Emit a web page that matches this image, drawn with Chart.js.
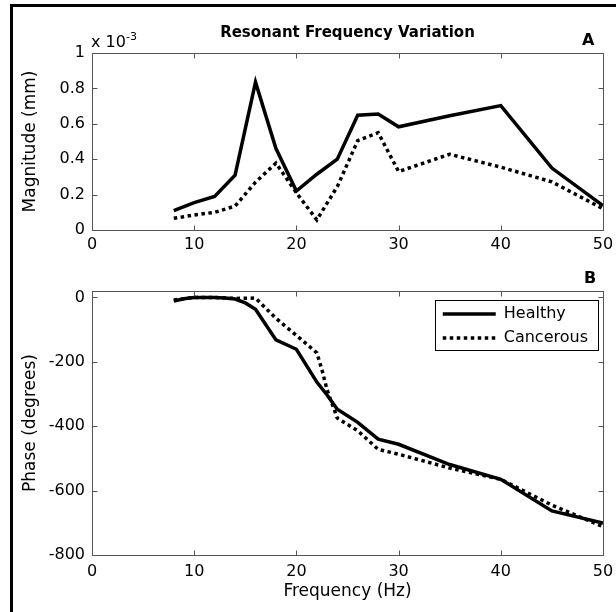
<!DOCTYPE html>
<html>
<head>
<meta charset="utf-8">
<script src="https://cdn.jsdelivr.net/npm/chart.js@4.4.1/dist/chart.umd.min.js"></script>
<style>
  body { margin: 0; background: #fff; }
  #wrap { position: relative; width: 616px; height: 612px; overflow: hidden; font-family: 'DejaVu Sans', sans-serif; color: #000; }
  #frame { position: absolute; left: 10px; top: 4px; width: 700px; height: 700px; border-left: 3px solid #000; border-top: 3px solid #000; }
  canvas { position: absolute; left: 0; }
  #magChart { top: 0; }
  #phaseChart { top: 262px; }
  .tag { position: absolute; font-weight: bold; font-size: 16px; line-height: 16px; }
  #expo { position: absolute; left: 91px; top: 33px; font-size: 16px; line-height: 18px; white-space: nowrap; }
  #expo span { font-size: 11px; position: relative; top: -7px; }
</style>
</head>
<body>
<div id="wrap">
  <div id="frame"></div>
  <canvas id="magChart" width="616" height="262"></canvas>
  <canvas id="phaseChart" width="616" height="350"></canvas>
  <div id="expo">x 10<span>-3</span></div>
  <div class="tag" style="left:582px; top:32px;">A</div>
  <div class="tag" style="left:584px; top:270px;">B</div>
</div>
<script>
// magnitude (x 10^-3 mm) vs frequency
const magFreq = [8, 10, 12, 14, 16, 18, 20, 22, 24, 26, 28, 30, 35, 40, 45, 50];
const magHealthy = [0.11, 0.155, 0.19, 0.31, 0.835, 0.46, 0.22, 0.315, 0.40, 0.648, 0.655, 0.583, 0.645, 0.703, 0.35, 0.138];
const magCancerous = [0.066, 0.085, 0.10, 0.135, 0.27, 0.378, 0.21, 0.057, 0.245, 0.505, 0.55, 0.33, 0.428, 0.355, 0.272, 0.12];

// phase (degrees) vs frequency
const phaseFreqHealthy = [8, 9, 10, 12, 13, 14, 15, 16, 18, 20, 22, 23, 24, 26, 28, 30, 35, 40, 45, 50];
const phaseHealthy = [-11, -4, 0, 0, -2, -5, -17, -37, -132, -161, -263, -303, -347, -388, -440, -456, -519, -565, -663, -701];
const phaseFreqCancerous = [8, 10, 12, 14, 16, 18, 20, 22, 22.5, 23, 24, 26, 28, 30, 35, 40, 45, 50];
const phaseCancerous = [-8, 0, 0, -3, -2, -65, -118, -172, -225, -287, -375, -414, -472, -487, -530, -565, -645, -712];

const xTicks = [0, 10, 20, 30, 40, 50];
const magTicks = [0, 0.2, 0.4, 0.6, 0.8, 1];
const phaseTicks = [-800, -600, -400, -200, 0];

Chart.defaults.font.family = "'DejaVu Sans', sans-serif";
Chart.defaults.color = '#000';

const axisColor = '#555';
const pts = (xs, ys) => xs.map((x, i) => ({x: x, y: ys[i]}));
const fixTicks = list => (s => { s.ticks = list.map(v => ({value: v})); });

// matlab style box with inward ticks, plus legend frame
const boxPlugin = {
  id: 'matlabBox',
  afterLayout(chart) {
    const lg = chart.legend;
    if (!lg || !lg.options.display) return;
    const a = chart.chartArea;
    lg.left = a.right - 5 - lg.width;
    lg.right = lg.left + lg.width;
    lg.top = a.top + 7;
    lg.bottom = a.bottom;
  },
  afterDraw(chart) {
    const {ctx, chartArea: a, scales} = chart;
    ctx.save();
    ctx.strokeStyle = axisColor;
    ctx.lineWidth = 1;
    const l = Math.round(a.left) + 0.5, r = Math.round(a.right) + 0.5;
    const t = Math.round(a.top) + 0.5, b = Math.round(a.bottom) + 0.5;
    ctx.strokeRect(l, t, r - l, b - t);
    ctx.beginPath();
    scales.x.ticks.forEach(tk => {
      const p = Math.round(scales.x.getPixelForValue(tk.value)) + 0.5;
      ctx.moveTo(p, b); ctx.lineTo(p, b - 5);
      ctx.moveTo(p, t); ctx.lineTo(p, t + 5);
    });
    scales.y.ticks.forEach(tk => {
      const p = Math.round(scales.y.getPixelForValue(tk.value)) + 0.5;
      ctx.moveTo(l, p); ctx.lineTo(l + 5, p);
      ctx.moveTo(r, p); ctx.lineTo(r - 5, p);
    });
    ctx.stroke();
    const lg = chart.legend;
    if (lg && lg.options.display) {
      ctx.strokeStyle = '#000';
      ctx.strokeRect(Math.round(lg.left) + 0.5, Math.round(lg.top) + 2.5, Math.round(lg.width), 50);
    }
    ctx.restore();
  }
};

function xScale(pad, title) {
  return {
    type: 'linear', min: 0, max: 50,
    afterBuildTicks: fixTicks(xTicks),
    afterFit: s => {
      s.height = title ? 57 : 32;
      s.paddingLeft = 0;
      s.paddingRight = 0;
    },
    grid: {display: false, drawTicks: false}, border: {display: false},
    ticks: {padding: pad, font: {size: 16}, maxRotation: 0, callback: v => String(v)},
    title: title ? {display: true, text: title, font: {size: 17}, padding: {top: 0, bottom: 10}} : {display: false}
  };
}

function yScale(min, max, list, title) {
  return {
    min: min, max: max,
    afterBuildTicks: fixTicks(list),
    afterFit: s => { s.width = 92; },
    grid: {display: false, drawTicks: false}, border: {display: false},
    ticks: {padding: 7, font: {size: 16}, autoSkip: false, callback: v => String(+v.toFixed(1))},
    title: {display: true, text: title, font: {size: 17}, padding: {top: 20, bottom: 0}}
  };
}

function lineSet(label, data, dashed) {
  return {
    label: label, data: data,
    borderColor: '#000', backgroundColor: '#000',
    borderWidth: 3.5, borderDash: dashed ? [3.5, 3.5] : [],
    pointRadius: 0, tension: 0, fill: false
  };
}

new Chart(document.getElementById('magChart'), {
  type: 'line',
  data: {
    datasets: [
      lineSet('Healthy', pts(magFreq, magHealthy), false),
      lineSet('Cancerous', pts(magFreq, magCancerous), true)
    ]
  },
  options: {
    responsive: false, animation: false, devicePixelRatio: 1,
    layout: {padding: {left: 0, right: 13, top: 0, bottom: 0}},
    plugins: {
      legend: {display: false},
      tooltip: {enabled: false},
      title: {
        display: true, text: 'Resonant Frequency Variation', fullSize: false,
        font: {size: 15, weight: 'bold'}, color: '#000',
        padding: {top: 24, bottom: 11}
      }
    },
    scales: {
      x: xScale(5, null),
      y: yScale(0, 1, magTicks, 'Magnitude (mm)')
    }
  },
  plugins: [boxPlugin]
});

new Chart(document.getElementById('phaseChart'), {
  type: 'line',
  data: {
    datasets: [
      lineSet('Healthy', pts(phaseFreqHealthy, phaseHealthy), false),
      lineSet('Cancerous', pts(phaseFreqCancerous, phaseCancerous), true)
    ]
  },
  options: {
    responsive: false, animation: false, devicePixelRatio: 1,
    layout: {padding: {left: 0, right: 13, top: 29, bottom: 0}},
    plugins: {
      tooltip: {enabled: false},
      legend: {
        display: true, position: 'chartArea', align: 'start',
        labels: {
          usePointStyle: true, pointStyle: 'line', pointStyleWidth: 53,
          padding: 8, color: '#000', font: {size: 16},
          generateLabels: chart => {
            const items = Chart.defaults.plugins.legend.labels.generateLabels(chart);
            items.forEach(it => {
              const ds = chart.data.datasets[it.datasetIndex];
              it.lineDash = ds.borderDash;
              it.lineWidth = ds.borderWidth;
              it.strokeStyle = ds.borderColor;
            });
            return items;
          }
        }
      }
    },
    scales: {
      x: xScale(7, 'Frequency (Hz)'),
      y: yScale(-800, 20, phaseTicks, 'Phase (degrees)')
    }
  },
  plugins: [boxPlugin]
});
</script>
</body>
</html>
